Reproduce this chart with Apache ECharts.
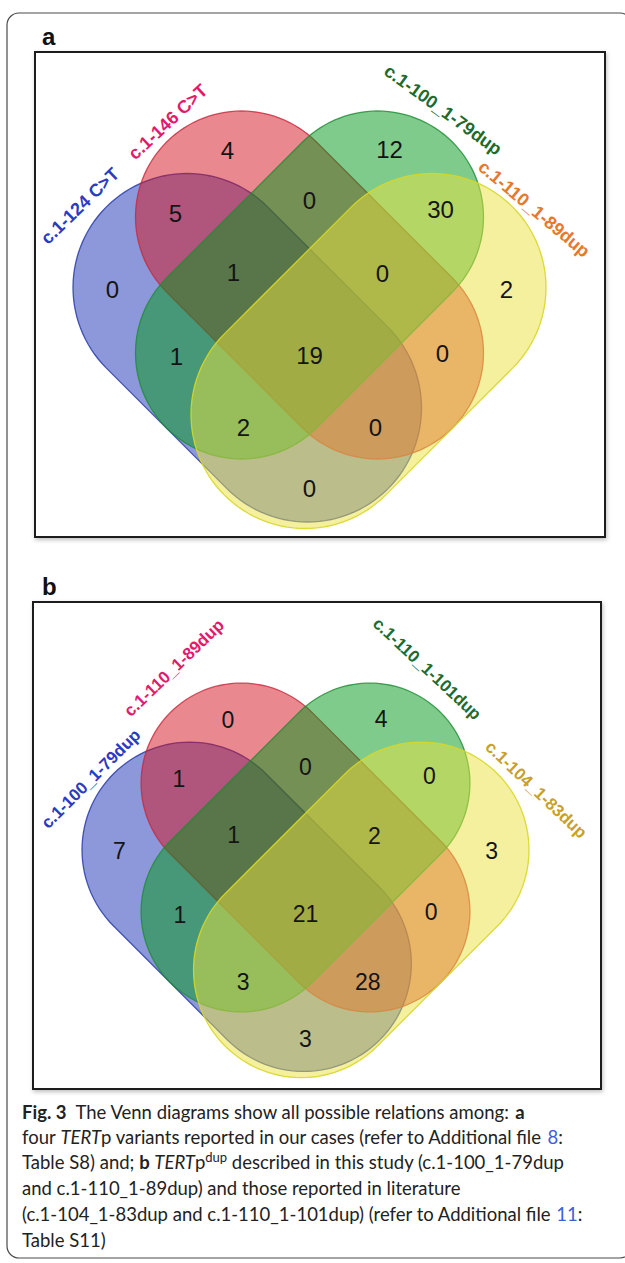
<!DOCTYPE html>
<html><head><meta charset="utf-8">
<script src="https://cdn.jsdelivr.net/npm/echarts@6/dist/echarts.min.js"></script>
<style>html,body{margin:0;padding:0;background:#fff;}#c{width:625px;height:1263px;}</style>
</head><body><div id="c"></div>
<script>
// ---------------- data ----------------
const setNamesA = ['c.1-124 C>T', 'c.1-146 C>T', 'c.1-100_1-79dup', 'c.1-110_1-89dup'];
const setNamesB = ['c.1-100_1-79dup', 'c.1-110_1-89dup', 'c.1-110_1-101dup', 'c.1-104_1-83dup'];
// regions of sets A(blue) B(red) C(green) D(yellow)
const regions = ['A','B','C','D','AB','BC','CD','AC','BD','AD','ABC','BCD','ACD','ABD','ABCD'];
const countsA = [0, 4, 12, 2, 5, 0, 30, 1, 0, 0, 1, 0, 2, 0, 19];
const countsB = [7, 0, 4, 3, 1, 0, 0, 1, 0, 3, 1, 2, 3, 28, 21];

// ---------------- layout (diagram units, y downwards) ----------------
const shapeGeom = [
  {c1: [-122.5, 2.5], c2: [-2, 123], r: 114},   // A blue
  {c1: [-68, -68], c2: [68, 68], r: 106},       // B red
  {c1: [68, -68], c2: [-68, 68], r: 106},       // C green
  {c1: [122.5, 2.5], c2: [-4.5, 129.5], r: 114} // D yellow
];
const regionAnchor = {
  A: [-197, 4], B: [-82, -135], C: [80, -136], D: [197, 4],
  AB: [-134, -72], BC: [0, -85], CD: [131, -76],
  AC: [-133, 71], BD: [133, 68], AD: [0, 203],
  ABC: [-76, -13], BCD: [73, -12], ACD: [-66, 142], ABD: [66, 142], ABCD: [0, 70]
};
const setFill = ['rgba(25,50,180,0.5)', 'rgba(212,18,30,0.5)', 'rgba(0,152,25,0.5)', 'rgba(234,226,62,0.5)'];
const setStroke = ['rgba(40,60,170,0.85)', 'rgba(200,40,60,0.8)', 'rgba(30,140,50,0.8)', 'rgba(215,215,40,0.9)'];
const panels = [
  {names: setNamesA, counts: countsA, origin: [309.5, 285], scale: 1, box: [35, 52, 570, 485],
   labelPos: [[-229.5, -79], [-141.5, -163], [133.5, -175], [224.5, -76]], labelRot: [44, 43, -36, -40],
   labelColor: ['#2b3bc2', '#e5196a', '#1e6b2c', '#e8782a'], nameSize: 18, countSize: 24},
  {names: setNamesB, counts: countsB, origin: [305.5, 847.5], scale: 0.945, box: [33, 602, 568, 487],
   labelPos: [[-227, -72.5], [-139, -190], [128.6, -189], [244, -61]], labelRot: [45, 44, -43, -43.5],
   labelColor: ['#2b3bc2', '#e5196a', '#1e6b2c', '#c9a02a'], nameSize: 17, countSize: 23}
];

// ---------------- build ----------------
function capsule(s, api) {
  const [x1, y1] = s.c1, [x2, y2] = s.c2, r = s.r, n = 60;
  const a0 = Math.atan2(y2 - y1, x2 - x1);
  const pts = [];
  for (let i = 0; i <= n; i++) { const t = a0 - Math.PI / 2 + Math.PI * i / n; pts.push(api.coord([x2 + r * Math.cos(t), y2 + r * Math.sin(t)])); }
  for (let i = 0; i <= n; i++) { const t = a0 + Math.PI / 2 + Math.PI * i / n; pts.push(api.coord([x1 + r * Math.cos(t), y1 + r * Math.sin(t)])); }
  return pts;
}
const grids = [], xAxes = [], yAxes = [], series = [];
const FONT = '"Liberation Sans", Arial, Helvetica, sans-serif';
panels.forEach((p, pi) => {
  const [bx, by, bw, bh] = p.box;
  grids.push({left: bx, top: by, width: bw, height: bh, show: true, backgroundColor: '#fff',
    borderColor: '#1a1a1a', borderWidth: 2, shadowColor: 'rgba(0,0,0,0.25)', shadowBlur: 4, shadowOffsetX: 1, shadowOffsetY: 2});
  xAxes.push({type: 'value', gridIndex: pi, show: false,
    min: (bx - p.origin[0]) / p.scale, max: (bx + bw - p.origin[0]) / p.scale});
  yAxes.push({type: 'value', gridIndex: pi, show: false, inverse: true,
    min: (by - p.origin[1]) / p.scale, max: (by + bh - p.origin[1]) / p.scale});
  series.push({
    type: 'custom', xAxisIndex: pi, yAxisIndex: pi, silent: true, z: 2,
    data: shapeGeom.map((s, i) => [(s.c1[0] + s.c2[0]) / 2, (s.c1[1] + s.c2[1]) / 2, i]),
    renderItem: (params, api) => {
      const i = api.value(2);
      return {type: 'polygon', shape: {points: capsule(shapeGeom[i], api)},
        style: {fill: setFill[i], stroke: setStroke[i], lineWidth: 1.3}};
    }
  });
  series.push({
    type: 'custom', xAxisIndex: pi, yAxisIndex: pi, silent: true, z: 3,
    data: regions.map((k, i) => [regionAnchor[k][0], regionAnchor[k][1], p.counts[i]]),
    renderItem: (params, api) => {
      const pt = api.coord([api.value(0), api.value(1)]);
      return {type: 'text', x: pt[0], y: pt[1],
        style: {text: String(api.value(2)), fill: '#141414', font: p.countSize + 'px ' + FONT, align: 'center', verticalAlign: 'middle'}};
    }
  });
  series.push({
    type: 'custom', xAxisIndex: pi, yAxisIndex: pi, silent: true, z: 3,
    data: p.names.map((nm, i) => [p.labelPos[i][0], p.labelPos[i][1], i]),
    renderItem: (params, api) => {
      const i = api.value(2);
      const pt = api.coord([api.value(0), api.value(1)]);
      return {type: 'text', x: pt[0], y: pt[1], rotation: p.labelRot[i] * Math.PI / 180,
        style: {text: p.names[i], fill: p.labelColor[i], font: 'bold ' + p.nameSize + 'px ' + FONT, align: 'center', verticalAlign: 'middle'}};
    }
  });
});

const CAP = 'Lato, "Open Sans", sans-serif';
const CS = 18.5;
const capRich = {
  b: {fontWeight: 'bold', fontSize: CS, fontFamily: CAP, fill: '#222', color: '#222'},
  i: {fontStyle: 'italic', fontSize: CS, fontFamily: CAP, fill: '#222', color: '#222'},
  l: {fontSize: CS, fontFamily: CAP, fill: '#3c5fd8', color: '#3c5fd8'},
  s: {fontSize: 13, fontFamily: CAP, fill: '#222', color: '#222', verticalAlign: 'top', lineHeight: 14}
};
const captionLines = [
  '{b|Fig. 3}  The Venn diagrams show all possible relations among: {b|a}',
  'four {i|TERT}p variants reported in our cases (refer to Additional file {l|8}:',
  'Table S8) and; {b|b} {i|TERT}p{s|dup} described in this study (c.1-100_1-79dup',
  'and c.1-110_1-89dup) and those reported in literature',
  '(c.1-104_1-83dup and c.1-110_1-101dup) (refer to Additional file {l|11}:',
  'Table S11)'
];
const captionY = [1112, 1137, 1162, 1188, 1214, 1240];
const graphic = [
  {type: 'rect', shape: {x: 7, y: 13, width: 625, height: 1245, r: 12}, style: {fill: 'none', stroke: '#4a4a4a', lineWidth: 1.2}, z: 0},
  {type: 'text', x: 42, y: 36, style: {text: 'a', font: 'bold 24px ' + FONT, fill: '#111', verticalAlign: 'middle'}},
  {type: 'text', x: 42, y: 586, style: {text: 'b', font: 'bold 24px ' + FONT, fill: '#111', verticalAlign: 'middle'}}
];
captionLines.forEach((t, i) => graphic.push({type: 'text', x: 22, y: captionY[i],
  style: {text: t, rich: capRich, fontSize: CS, fontFamily: CAP, fill: '#222', lineHeight: 24, verticalAlign: 'middle'}}));

const chart = echarts.init(document.getElementById('c'), null, {renderer: 'svg'});
chart.setOption({animation: false, grid: grids, xAxis: xAxes, yAxis: yAxes, series, graphic});
</script></body></html>
